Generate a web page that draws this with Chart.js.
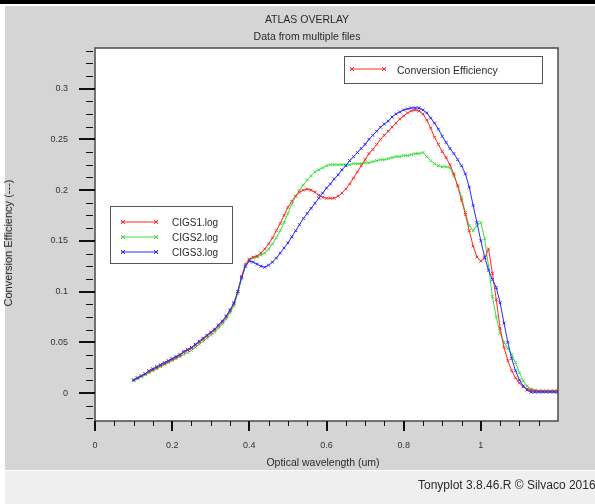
<!DOCTYPE html>
<html>
<head>
<meta charset="utf-8">
<script src="https://cdn.jsdelivr.net/npm/chart.js@4.4.1/dist/chart.umd.min.js"></script>
<style>
  html, body { margin: 0; padding: 0; background: #fff; }
  #chart { display: block; }
</style>
</head>
<body>
<canvas id="chart" width="595" height="504"></canvas>
<script>
// wavelength (um)
const wavelength = [
  0.10,0.11,0.12,0.13,0.14,0.15,0.16,0.17,0.18,0.19,
  0.20,0.21,0.22,0.23,0.24,0.25,0.26,0.27,0.28,0.29,
  0.30,0.31,0.32,0.33,0.34,0.35,0.36,0.37,0.38,0.39,
  0.40,0.41,0.42,0.43,0.44,0.45,0.46,0.47,0.48,0.49,
  0.50,0.51,0.52,0.53,0.54,0.55,0.56,0.57,0.58,0.59,
  0.60,0.61,0.62,0.63,0.64,0.65,0.66,0.67,0.68,0.69,
  0.70,0.71,0.72,0.73,0.74,0.75,0.76,0.77,0.78,0.79,
  0.80,0.81,0.82,0.83,0.84,0.85,0.86,0.87,0.88,0.89,
  0.90,0.91,0.92,0.93,0.94,0.95,0.96,0.97,0.98,0.99,
  1.00,1.01,1.02,1.03,1.04,1.05,1.06,1.07,1.08,1.09,
  1.10,1.11,1.12,1.13,1.14,1.15,1.16,1.17,1.18,1.19,1.20
];

// conversion efficiency per file
const cigs1 = [
  0.013,0.015,0.017,0.019,0.021,0.023,0.025,0.027,0.029,0.031,
  0.033,0.035,0.037,0.040,0.042,0.044,0.047,0.050,0.053,0.056,
  0.059,0.062,0.066,0.070,0.075,0.081,0.088,0.100,0.115,0.127,
  0.132,0.134,0.135,0.138,0.142,0.147,0.153,0.160,0.167,0.175,
  0.183,0.189,0.194,0.198,0.200,0.201,0.200,0.198,0.195,0.193,
  0.192,0.192,0.192,0.194,0.197,0.201,0.206,0.212,0.218,0.224,
  0.230,0.236,0.240,0.245,0.250,0.254,0.258,0.262,0.266,0.270,
  0.273,0.276,0.278,0.279,0.278,0.275,0.269,0.261,0.252,0.245,
  0.238,0.232,0.225,0.216,0.204,0.190,0.176,0.160,0.145,0.134,
  0.130,0.133,0.142,0.118,0.092,0.064,0.045,0.032,0.022,0.015,
  0.010,0.006,0.004,0.003,0.002,0.002,0.002,0.002,0.002,0.002,0.002
];
const cigs2 = [
  0.012,0.014,0.016,0.018,0.020,0.022,0.024,0.026,0.028,0.030,
  0.032,0.034,0.036,0.038,0.040,0.042,0.045,0.048,0.051,0.054,
  0.057,0.060,0.064,0.068,0.073,0.079,0.086,0.098,0.113,0.125,
  0.131,0.133,0.134,0.136,0.138,0.142,0.147,0.153,0.160,0.168,
  0.177,0.186,0.194,0.200,0.205,0.210,0.214,0.218,0.220,0.222,
  0.224,0.225,0.225,0.225,0.225,0.225,0.225,0.226,0.226,0.226,
  0.227,0.227,0.228,0.229,0.230,0.230,0.231,0.232,0.233,0.233,
  0.234,0.234,0.235,0.236,0.236,0.237,0.233,0.229,0.226,0.224,
  0.223,0.223,0.222,0.214,0.205,0.193,0.178,0.165,0.160,0.165,
  0.168,0.152,0.125,0.095,0.075,0.059,0.050,0.044,0.038,0.030,
  0.020,0.012,0.007,0.004,0.003,0.002,0.002,0.002,0.002,0.002,0.002
];
const cigs3 = [
  0.013,0.015,0.017,0.019,0.022,0.024,0.026,0.028,0.030,0.032,
  0.034,0.036,0.038,0.041,0.043,0.045,0.048,0.051,0.054,0.057,
  0.060,0.063,0.067,0.071,0.076,0.082,0.089,0.100,0.114,0.125,
  0.130,0.129,0.127,0.125,0.124,0.126,0.129,0.133,0.138,0.143,
  0.148,0.154,0.160,0.166,0.172,0.177,0.182,0.187,0.192,0.197,
  0.202,0.206,0.211,0.215,0.220,0.224,0.229,0.233,0.237,0.241,
  0.245,0.250,0.254,0.258,0.262,0.265,0.268,0.272,0.275,0.277,
  0.279,0.280,0.281,0.281,0.281,0.279,0.276,0.271,0.266,0.260,
  0.253,0.247,0.241,0.236,0.230,0.224,0.216,0.203,0.185,0.168,
  0.150,0.134,0.121,0.112,0.104,0.089,0.069,0.050,0.034,0.022,
  0.013,0.007,0.003,0.001,0.001,0.001,0.001,0.001,0.001,0.001,0.001
];

const fileNames = ['CIGS1.log', 'CIGS2.log', 'CIGS3.log'];
const colors = ['#ff2a2a', '#3ee03e', '#2b2bff'];

const xMajor = [0, 0.2, 0.4, 0.6, 0.8, 1];
const xMinor = [0.05,0.1,0.15,0.25,0.3,0.35,0.45,0.5,0.55,0.65,0.7,0.75,0.85,0.9,0.95,1.05,1.1,1.15];
const yMajor = [0, 0.05, 0.1, 0.15, 0.2, 0.25, 0.3];
const yMinor = [-0.025,-0.0125,0.0125,0.025,0.0375,0.0625,0.075,0.0875,0.1125,0.125,0.1375,
  0.1625,0.175,0.1875,0.2125,0.225,0.2375,0.2625,0.275,0.2875,0.3125,0.325,0.3375];

const FONT = '"Liberation Sans", Arial, sans-serif';

function pts(ys) {
  return wavelength.map((x, i) => ({ x: x, y: ys[i] }));
}

function xMark(ctx, x, y, r, color) {
  ctx.strokeStyle = color;
  ctx.lineWidth = 1;
  ctx.beginPath();
  ctx.moveTo(x - r, y - r); ctx.lineTo(x + r, y + r);
  ctx.moveTo(x - r, y + r); ctx.lineTo(x + r, y - r);
  ctx.stroke();
}

function legendLine(ctx, x1, x2, y, color) {
  ctx.strokeStyle = color;
  ctx.lineWidth = 1;
  ctx.beginPath();
  ctx.moveTo(x1, y); ctx.lineTo(x2, y);
  ctx.stroke();
  xMark(ctx, x1 + 2, y, 2, color);
  xMark(ctx, x2 - 2, y, 2, color);
}

const decor = {
  id: 'decor',
  beforeDraw(chart) {
    const ctx = chart.ctx;
    const a = chart.chartArea;
    ctx.save();
    ctx.fillStyle = '#ffffff';
    ctx.fillRect(0, 0, 595, 504);
    ctx.fillStyle = '#000000';
    ctx.fillRect(0, 0, 595, 4);
    ctx.fillStyle = '#d5d5d5';
    ctx.fillRect(5, 6, 590, 464);
    ctx.fillStyle = '#efefef';
    ctx.fillRect(5, 471, 590, 33);
    ctx.fillStyle = '#ffffff';
    ctx.fillRect(a.left, a.top, a.right - a.left, a.bottom - a.top);

    // titles
    ctx.fillStyle = '#2a2a2a';
    ctx.font = '10.5px ' + FONT;
    ctx.textAlign = 'center';
    ctx.textBaseline = 'middle';
    ctx.fillText('ATLAS OVERLAY', 307, 20);
    ctx.fillText('Data from multiple files', 307, 37);
    ctx.fillText('Optical wavelength (um)', 323, 463);
    ctx.save();
    ctx.translate(9, 243);
    ctx.rotate(-Math.PI / 2);
    ctx.font = '11px ' + FONT;
    ctx.fillText('Conversion Efficiency (---)', 0, 0);
    ctx.restore();

    ctx.font = '12px ' + FONT;
    ctx.textAlign = 'left';
    ctx.fillText('Tonyplot 3.8.46.R \u00A9 Silvaco 2016', 418, 486);
    ctx.restore();
  },
  afterDatasetsDraw(chart) {
    const ctx = chart.ctx;
    const a = chart.chartArea;
    const xs = chart.scales.x, ys = chart.scales.y;
    ctx.save();

    // frame
    ctx.strokeStyle = '#4a4a4a';
    ctx.lineWidth = 1.5;
    ctx.strokeRect(a.left, a.top, a.right - a.left, a.bottom - a.top);

    // ticks
    ctx.strokeStyle = '#111';
    ctx.lineWidth = 1;
    ctx.beginPath();
    xMinor.forEach(v => {
      const px = Math.round(xs.getPixelForValue(v)) + 0.5;
      ctx.moveTo(px, a.bottom); ctx.lineTo(px, a.bottom + 5);
    });
    yMinor.forEach(v => {
      const py = Math.round(ys.getPixelForValue(v)) + 0.5;
      ctx.moveTo(a.left - 9, py); ctx.lineTo(a.left - 2, py);
    });
    ctx.stroke();
    ctx.lineWidth = 2;
    ctx.beginPath();
    xMajor.forEach(v => {
      const px = Math.round(xs.getPixelForValue(v));
      ctx.moveTo(px, a.bottom); ctx.lineTo(px, a.bottom + 10);
    });
    yMajor.forEach(v => {
      const py = Math.round(ys.getPixelForValue(v));
      ctx.moveTo(a.left - 16, py); ctx.lineTo(a.left, py);
    });
    ctx.stroke();

    // quantity legend
    ctx.fillStyle = '#ffffff';
    ctx.fillRect(344, 56, 198, 27);
    ctx.strokeStyle = '#555';
    ctx.lineWidth = 1;
    ctx.strokeRect(344.5, 56.5, 198, 27);
    legendLine(ctx, 350, 386, 69, colors[0]);
    ctx.fillStyle = '#2a2a2a';
    ctx.font = '10.5px ' + FONT;
    ctx.textAlign = 'left';
    ctx.textBaseline = 'middle';
    ctx.fillText('Conversion Efficiency', 397, 71);

    // file legend
    ctx.fillStyle = '#ffffff';
    ctx.fillRect(110, 206, 122, 57);
    ctx.strokeStyle = '#555';
    ctx.strokeRect(110.5, 206.5, 122, 57);
    const rows = [222, 237, 252];
    ctx.font = '10px ' + FONT;
    chart.data.datasets.forEach((ds, i) => {
      legendLine(ctx, 121, 158, rows[i], ds.borderColor);
      ctx.fillStyle = '#2a2a2a';
      ctx.fillText(ds.label, 172, rows[i] + 1);
    });
    ctx.restore();
  }
};

new Chart(document.getElementById('chart'), {
  type: 'line',
  data: {
    datasets: [
      { label: fileNames[0], data: pts(cigs1), borderColor: colors[0], order: 1 },
      { label: fileNames[1], data: pts(cigs2), borderColor: colors[1], order: 2 },
      { label: fileNames[2], data: pts(cigs3), borderColor: colors[2], order: 0 }
    ].map(ds => Object.assign(ds, {
      backgroundColor: ds.borderColor,
      borderWidth: 1,
      pointStyle: 'crossRot',
      pointRadius: 2,
      pointBorderWidth: 1,
      pointBorderColor: ds.borderColor,
      tension: 0,
      fill: false
    }))
  },
  options: {
    responsive: false,
    animation: false,
    events: [],
    layout: { padding: { left: 5, top: 48, right: 37, bottom: 34 } },
    plugins: { legend: { display: false }, tooltip: { enabled: false }, title: { display: false } },
    scales: {
      x: {
        type: 'linear',
        min: 0,
        max: 1.2,
        afterFit: s => { s.height = 49; },
        afterBuildTicks: s => { s.ticks = xMajor.map(v => ({ value: v })); },
        grid: { display: false, drawTicks: false },
        border: { display: false },
        ticks: {
          padding: 19,
          color: '#333',
          font: { size: 9, family: FONT },
          maxRotation: 0,
          autoSkip: false,
          callback: v => String(v)
        }
      },
      y: {
        type: 'linear',
        min: -0.0275,
        max: 0.34,
        afterFit: s => { s.width = 90; },
        afterBuildTicks: s => { s.ticks = yMajor.map(v => ({ value: v })); },
        grid: { display: false, drawTicks: false },
        border: { display: false },
        ticks: {
          padding: 27,
          color: '#333',
          font: { size: 9, family: FONT },
          autoSkip: false,
          callback: v => String(v)
        }
      }
    }
  },
  plugins: [decor]
});
</script>
</body>
</html>
